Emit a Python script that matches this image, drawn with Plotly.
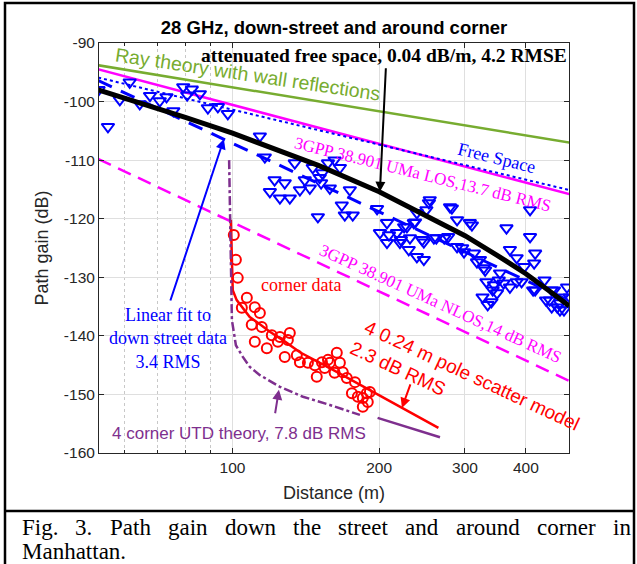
import math
import plotly.graph_objects as go

# ---------------- data ----------------
line_dist = [53, 491]
ray_theory_db = [-93.8, -107.0]
free_space_db = [-95.9, -115.1]
uma_los_db = [-94.5, -115.8]
uma_nlos_db = [-109.8, -147.7]
linear_fit_db = [-96.4, -134.0]

atten_dist = [53, 60, 70, 80, 100, 120, 150, 200, 250, 300, 350, 400, 450, 491]
atten_db = [-98.0, -99.4, -101.1, -102.7, -105.4, -107.8, -110.9, -115.4,
            -119.4, -122.9, -126.3, -129.4, -132.5, -134.9]

street_dist = [53.1, 55.5, 58.7, 61.5, 64.5, 67.7, 70.9, 73.2, 75.6, 79.2, 80.7,
               82.5, 85.7, 89.0, 93.3, 97.8,
               113.8, 116.5, 134.2, 146.1, 162.0, 122.0, 128.0, 119.3, 125.1, 131.1,
               137.5, 140.7, 144.1, 152.8, 152.0, 158.4, 166.1, 174.1, 167.6, 170.0,
               176.5, 149.7, 151.0, 157.0,
               198.0, 207.5, 200.7, 209.5, 217.5, 225.0, 235.6, 239.0, 253.0, 207.5,
               220.6, 231.3, 230.0, 239.0, 247.0, 247.0, 259.0, 272.0, 279.5, 289.0,
               307.0, 289.0, 298.6, 313.0, 317.5, 328.0, 332.0, 344.0, 340.0, 352.0,
               360.0, 371.0, 383.0, 392.0, 365.0, 371.0, 383.0, 397.0, 408.0, 408.0,
               418.0, 416.0, 418.0, 437.0, 457.0, 448.0, 464.0, 479.0, 486.0, 492.0,
               470.0, 254.0, 250.0, 282.0, 310.0, 237.0, 228.0, 221.6, 245.0, 262.0,
               277.0, 296.0, 322.0, 330.0, 342.0, 354.0, 414.0, 440.0, 452.0, 475.0,
               470.0, 452.0, 326.0, 334.0, 349.0]
street_db = [-98.0, -104.3, -99.7, -96.7, -100.4, -99.0, -99.9, -99.2, -101.6, -97.5, -98.9,
             -97.9, -98.7, -101.1, -100.9, -102.1,
             -105.9, -109.5, -110.5, -111.3, -110.0, -113.4, -113.9, -115.4, -116.5, -116.5,
             -115.1, -113.4, -114.8, -112.2, -113.9, -114.8, -111.3, -115.1, -117.7, -119.4,
             -119.4, -119.7, -113.0, -110.5,
             -118.3, -120.7, -122.4, -122.8, -122.4, -121.4, -120.7, -119.0, -117.3, -124.1,
             -124.1, -123.3, -125.3, -126.5, -127.0, -124.0, -123.3, -123.3, -118.0, -120.2,
             -120.7, -124.8, -125.7, -125.9, -127.4, -128.4, -130.8, -131.3, -134.2, -130.5,
             -131.0, -131.7, -130.8, -130.8, -121.6, -125.3, -126.7, -128.2, -118.5, -123.1,
             -125.9, -127.6, -132.2, -130.5, -132.2, -133.9, -135.1, -135.6, -131.7, -133.4,
             -134.4, -116.8, -118.5, -118.2, -121.1, -120.6, -121.4, -123.6, -123.6, -123.3,
             -123.1, -125.0, -127.0, -128.8, -132.2, -129.3, -132.2, -133.9, -132.2, -133.4,
             -135.6, -135.1, -133.4, -134.7, -132.7]

corner_dist = [100.6, 101.6, 102.5, 104.5, 107.0, 111.1, 113.8, 109.5, 114.8, 120.4,
               125.1, 131.1, 129.9, 117.6, 111.1, 123.9, 128.0, 135.5, 137.5, 142.8,
               147.6, 152.6, 157.0, 148.9, 154.6, 163.7, 158.4, 166.1, 168.4, 162.0,
               171.6, 178.4, 175.8, 180.8, 185.1, 188.6, 191.4, 185.1, 189.5]
corner_db = [-122.8, -127.0, -130.1, -135.2, -133.5, -135.1, -136.1, -138.1, -138.5, -139.9,
             -140.2, -139.5, -140.7, -142.1, -141.0, -141.0, -143.6, -143.3, -144.5, -144.6,
             -145.0, -144.5, -144.1, -147.0, -145.5, -142.9, -144.6, -144.6, -146.2, -146.3,
             -147.2, -147.9, -149.8, -150.4, -150.6, -149.8, -149.6, -152.1, -151.3]

pole_dist = [99.2, 99.7, 100.1, 102.0, 105.0, 108.5, 113.8, 119.3, 127.7, 137.5, 158.4, 199.2, 264.6]
pole_db = [-120.2, -127.0, -132.2, -133.9, -135.2, -136.8, -138.0, -139.3, -140.9, -142.8,
           -145.5, -150.1, -155.7]

utd_dist_a = [98.4, 99.2, 99.7, 101.6, 105.0, 108.5, 113.8, 125.1, 139.5, 158.4, 182.6]
utd_db_a = [-110.0, -125.3, -137.3, -141.6, -143.6, -145.3, -146.7, -148.7, -150.4, -151.8, -153.5]
utd_dist_b = [198.5, 266.6]
utd_db_b = [-154.0, -157.3]

x_ticks = [100, 200, 300, 400]
x_minor = [60, 70, 80, 90]
y_ticks = [-160, -150, -140, -130, -120, -110, -100, -90]
x_range_m = [53.2, 490.5]
y_range = [-160, -90]

# ---------------- colours ----------------
BLUE = "#0000FF"
GREEN = "#77AC30"
MAGENTA = "#FF00FF"
RED = "#FF0000"
PURPLE = "#7E2F8E"
SERIF = "Liberation Serif, Times New Roman, serif"
SANS = "Liberation Sans, Arial, sans-serif"

W, H = 637, 564
L, R, T, B = 99, 68, 43, 111
PW, PH = W - L - R, H - T - B


def px(xp):
    return (xp - L) / PW


def py(yp):
    return (T + PH - yp) / PH


fig = go.Figure()

fig.add_trace(go.Scatter(x=line_dist, y=uma_nlos_db, mode="lines",
                         line=dict(color=MAGENTA, width=2.5, dash="14px,8px")))
fig.add_trace(go.Scatter(x=line_dist, y=ray_theory_db, mode="lines",
                         line=dict(color=GREEN, width=2.5)))
fig.add_trace(go.Scatter(x=line_dist, y=uma_los_db, mode="lines",
                         line=dict(color=MAGENTA, width=2.5)))
fig.add_trace(go.Scatter(x=line_dist, y=free_space_db, mode="lines",
                         line=dict(color=BLUE, width=2, dash="dot")))
fig.add_trace(go.Scatter(x=street_dist, y=street_db, mode="markers",
                         marker=dict(symbol="triangle-down-open", size=11, color=BLUE,
                                     line=dict(width=2, color=BLUE))))
fig.add_trace(go.Scatter(x=line_dist, y=linear_fit_db, mode="lines",
                         line=dict(color=BLUE, width=3, dash="15px,10px")))
fig.add_trace(go.Scatter(x=atten_dist, y=atten_db, mode="lines",
                         line=dict(color="black", width=5)))
fig.add_trace(go.Scatter(x=corner_dist, y=corner_db, mode="markers",
                         marker=dict(symbol="circle-open", size=10, color=RED,
                                     line=dict(width=2, color=RED))))
fig.add_trace(go.Scatter(x=pole_dist, y=pole_db, mode="lines",
                         line=dict(color=RED, width=2.5)))
fig.add_trace(go.Scatter(x=utd_dist_a, y=utd_db_a, mode="lines",
                         line=dict(color=PURPLE, width=2.5, dash="dashdot")))
fig.add_trace(go.Scatter(x=utd_dist_b, y=utd_db_b, mode="lines",
                         line=dict(color=PURPLE, width=2.5)))

lg = math.log10
ann = []
# texts
ann.append(dict(text="<b>attenuated free space, 0.04 dB/m, 4.2 RMSE</b>", xref="paper", x=1.0,
                xanchor="right", yref="y", y=-92.1, showarrow=False,
                font=dict(family=SERIF, size=19.5, color="black")))
ann.append(dict(text="Ray theory with wall reflections", x=lg(107.5), y=-95.3, textangle=8.5,
                showarrow=False, font=dict(family=SANS, size=19.5, color=GREEN)))
ann.append(dict(text="Free Space", x=lg(349), y=-109.6, textangle=14, showarrow=False,
                font=dict(family=SERIF, size=18, color=BLUE)))
ann.append(dict(text="3GPP 38.901 UMa LOS,13.7 dB RMS", x=lg(246), y=-112.4, textangle=14,
                showarrow=False, font=dict(family=SERIF, size=17, color=MAGENTA)))
ann.append(dict(text="3GPP 38.901 UMa NLOS,14 dB RMS", x=lg(266.6), y=-134.4, textangle=24.5,
                showarrow=False, font=dict(family=SERIF, size=17, color=MAGENTA)))
ann.append(dict(text="Linear fit to<br>down street data<br>3.4 RMS", x=lg(73.6), y=-140.4,
                showarrow=False, font=dict(family=SERIF, size=18, color=BLUE)))
ann.append(dict(text="corner data", x=lg(138.1), y=-131.3, showarrow=False,
                font=dict(family=SERIF, size=18, color=RED)))
ann.append(dict(text="4 0.24 m pole scatter model", x=lg(310), y=-146.7, textangle=25,
                showarrow=False, font=dict(family=SANS, size=19, color=RED)))
ann.append(dict(text="2.3 dB RMS", x=lg(218.5), y=-145.5, textangle=25,
                showarrow=False, font=dict(family=SANS, size=19, color=RED)))
ann.append(dict(text="4 corner UTD theory, 7.8 dB RMS", x=lg(103), y=-156.6, showarrow=False,
                font=dict(family=SANS, size=17, color=PURPLE)))
# arrows
ann.append(dict(text="", x=lg(200.7), y=-115.4, ax=6, ay=-125, showarrow=True,
                arrowhead=2, arrowsize=1, arrowwidth=2, arrowcolor="black"))
ann.append(dict(text="", x=lg(96.0), y=-106.4, ax=-54, ay=163, showarrow=True,
                arrowhead=2, arrowsize=1, arrowwidth=2, arrowcolor=BLUE))
ann.append(dict(text="", x=lg(222.7), y=-152.3, ax=9, ay=-25, showarrow=True,
                arrowhead=2, arrowsize=1, arrowwidth=2, arrowcolor=RED))
ann.append(dict(text="", x=lg(124.5), y=-149.2, ax=-4, ay=25, showarrow=True,
                arrowhead=2, arrowsize=1, arrowwidth=2, arrowcolor=PURPLE))

# caption (justified first line)
caption_words = ["Fig.", "3.", "Path", "gain", "down", "the", "street", "and", "around", "corner", "in"]
caption_x = [20, 73, 108, 166, 223, 291, 336, 403, 454, 535, 611]
for w, xp in zip(caption_words, caption_x):
    ann.append(dict(text=w, xref="paper", yref="paper", x=px(xp), y=py(527), xanchor="left",
                    yanchor="middle", showarrow=False,
                    font=dict(family=SERIF, size=23, color="black")))
ann.append(dict(text="Manhattan.", xref="paper", yref="paper", x=px(20), y=py(551), xanchor="left",
                yanchor="middle", showarrow=False,
                font=dict(family=SERIF, size=23, color="black")))

shapes = [
    dict(type="rect", xref="paper", yref="paper", x0=px(5), x1=px(634), y0=py(570), y1=py(3),
         line=dict(color="black", width=2.5), layer="above"),
    dict(type="line", xref="paper", yref="paper", x0=px(5), x1=px(634), y0=py(511), y1=py(511),
         line=dict(color="black", width=2.5)),
]

axis_common = dict(showline=True, linecolor="#262626", linewidth=1, mirror="ticks",
                   ticks="inside", ticklen=5, tickcolor="#262626",
                   tickfont=dict(family=SANS, size=15.5, color="#262626"),
                   showgrid=True, gridcolor="#dfdfdf", gridwidth=1, zeroline=False)

fig.update_layout(
    width=W, height=H,
    margin=dict(l=L, r=R, t=T, b=B),
    paper_bgcolor="white", plot_bgcolor="white",
    showlegend=False,
    title=dict(text="28 GHz, down-street and around corner", x=px(334), xref="paper",
               xanchor="center", y=1 - 28 / H, yanchor="middle",
               font=dict(family=SANS, size=18.5, color="black", weight="bold")),
    xaxis=dict(type="log", range=[lg(x_range_m[0]), lg(x_range_m[1])],
               tickmode="array", tickvals=x_ticks, ticktext=[str(v) for v in x_ticks],
               title=dict(text="Distance (m)", font=dict(family=SANS, size=18, color="#262626"),
                          standoff=11),
               minor=dict(tickvals=x_minor, ticks="inside", ticklen=3, tickcolor="#262626",
                          showgrid=True, gridcolor="#c8c8c8", griddash="dot", gridwidth=1),
               **axis_common),
    yaxis=dict(range=y_range, tickmode="array", tickvals=y_ticks,
               ticktext=["%d" % v for v in y_ticks],
               title=dict(text="Path gain (dB)", font=dict(family=SANS, size=18, color="#262626"),
                          standoff=10),
               **axis_common),
    annotations=ann,
    shapes=shapes,
)

fig.write_html("out.html", config={"displayModeBar": False},
               post_script="document.body.style.margin='0';document.body.style.overflow='hidden';")
